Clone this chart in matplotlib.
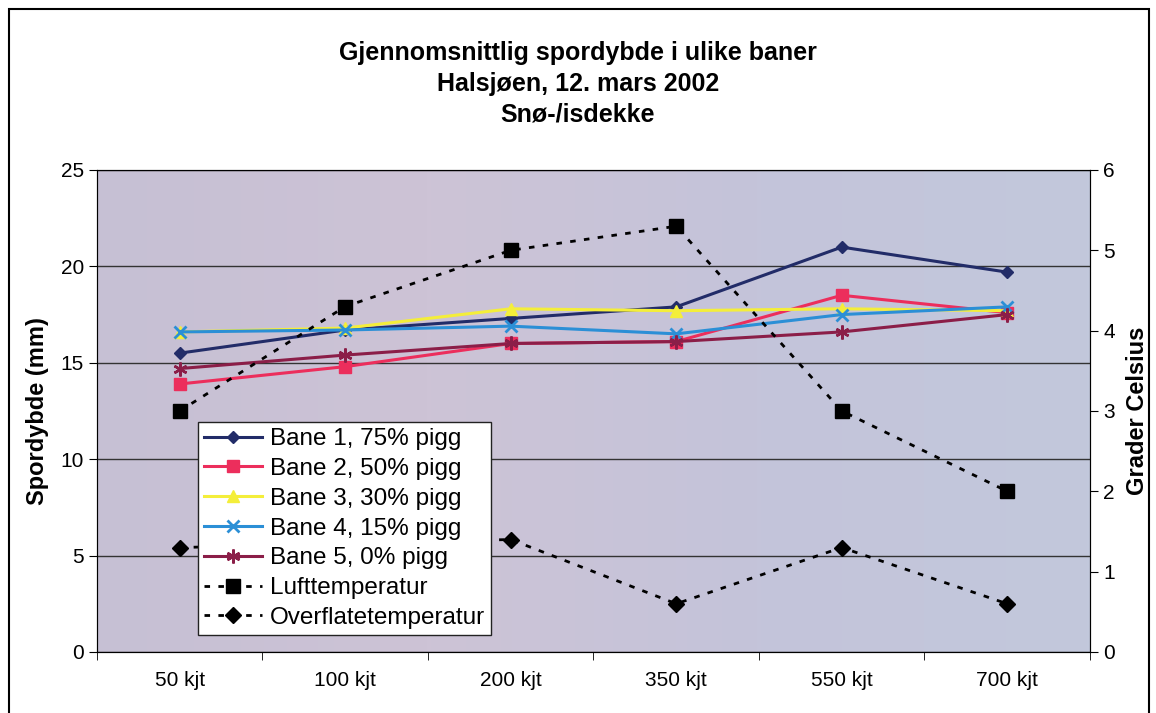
import numpy as np
import matplotlib
matplotlib.use('Agg')
import matplotlib.pyplot as plt
from matplotlib.colors import LinearSegmentedColormap
from matplotlib.patches import Rectangle

plt.rcParams['font.family'] = ['Liberation Sans', 'DejaVu Sans']

# data
kategorier = ['50 kjt', '100 kjt', '200 kjt', '350 kjt', '550 kjt', '700 kjt']
bane1 = [15.5, 16.7, 17.3, 17.9, 21.0, 19.7]
bane2 = [13.9, 14.8, 16.0, 16.1, 18.5, 17.6]
bane3 = [16.6, 16.8, 17.8, 17.7, 17.8, 17.7]
bane4 = [16.6, 16.7, 16.9, 16.5, 17.5, 17.9]
bane5 = [14.7, 15.4, 16.0, 16.1, 16.6, 17.5]
lufttemp = [3.0, 4.3, 5.0, 5.3, 3.0, 2.0]
overflatetemp = [1.3, 1.35, 1.4, 0.6, 1.3, 0.6]

fig = plt.figure(figsize=(11.56, 7.13), dpi=100)
fig.patch.set_facecolor('white')
# ramme rundt hele diagrammet
fig.add_artist(Rectangle((0.008, -0.01), 0.986, 0.998, transform=fig.transFigure,
                         fill=False, edgecolor='black', linewidth=1.5))

ax = fig.add_axes([0.0839, 0.0856, 0.859, 0.676])
x = np.arange(len(kategorier))

# bakgrunn med svak fargeovergang
cmap = LinearSegmentedColormap.from_list('bg', ['#c6c0d4', '#cdc3d6', '#c4c4da', '#c2c8dc'])
grad = np.linspace(0, 1, 256).reshape(1, -1)
ax.imshow(grad, cmap=cmap, aspect='auto', extent=(-0.5, 5.5, 0, 25), zorder=0)

ax.plot(x, bane1, color='#222c68', marker='D', markersize=6, linewidth=2.2, label='Bane 1, 75% pigg', zorder=3)
ax.plot(x, bane2, color='#ec2e5c', marker='s', markersize=8, linewidth=2.2, label='Bane 2, 50% pigg', zorder=3)
ax.plot(x, bane3, color='#f4ee3a', marker='^', markersize=8, linewidth=2.2, label='Bane 3, 30% pigg', zorder=3)
ax.plot(x, bane4, color='#2b8fd6', marker='x', markersize=9, markeredgewidth=2, linewidth=2.2, label='Bane 4, 15% pigg', zorder=3)
ax.plot(x, bane5, color='#8b1e48', marker=(6, 2, 0), markersize=10, markeredgewidth=1.8, linewidth=2.2, label='Bane 5, 0% pigg', zorder=3)

ax.set_xlim(-0.5, 5.5)
ax.set_ylim(0, 25)
ax.set_yticks([0, 5, 10, 15, 20, 25])
ax.set_xticks(x)
ax.set_xticklabels(kategorier, fontsize=15)
ax.set_xticks(np.arange(-0.5, 6, 1), minor=True)
ax.tick_params(axis='x', which='major', length=0, pad=14)
ax.tick_params(axis='x', which='minor', length=6, direction='out')
ax.tick_params(axis='y', labelsize=15, length=6, direction='out')
ax.grid(axis='y', color='#333333', linewidth=1.0, zorder=1)
ax.set_axisbelow(True)
ax.set_ylabel('Spordybde (mm)', fontsize=17, fontweight='bold', labelpad=8)
for s in ax.spines.values():
    s.set_color('#333333')

ax2 = ax.twinx()
ax2.plot(x, lufttemp, color='black', linestyle=(0, (2, 3)), linewidth=2, marker='s', markersize=10, label='Lufttemperatur', zorder=4)
ax2.plot(x, overflatetemp, color='black', linestyle=(0, (2, 3)), linewidth=2, marker='D', markersize=8, label='Overflatetemperatur', zorder=4)
ax2.set_ylim(0, 6)
ax2.set_yticks([0, 1, 2, 3, 4, 5, 6])
ax2.tick_params(axis='y', labelsize=15, length=6, direction='out')
ax2.set_ylabel('Grader Celsius', fontsize=17, fontweight='bold', labelpad=8)

h1, l1 = ax.get_legend_handles_labels()
h2, l2 = ax2.get_legend_handles_labels()
leg = ax2.legend(h1 + h2, l1 + l2, loc='upper left', bbox_to_anchor=(0.1017, 0.477),
                 borderaxespad=0, fontsize=17.5, frameon=True, fancybox=False,
                 handlelength=2.4, handletextpad=0.3, labelspacing=0.32, borderpad=0.25)
leg.get_frame().set_edgecolor('#222222')
leg.get_frame().set_facecolor('white')
leg.get_frame().set_alpha(1)
leg.set_zorder(10)

fig.text(0.5, 0.925, 'Gjennomsnittlig spordybde i ulike baner', ha='center', va='center', fontsize=18, fontweight='bold')
fig.text(0.5, 0.882, 'Halsjøen, 12. mars 2002', ha='center', va='center', fontsize=18, fontweight='bold')
fig.text(0.5, 0.839, 'Snø-/isdekke', ha='center', va='center', fontsize=18, fontweight='bold')

fig.savefig('out.png', dpi=100)
